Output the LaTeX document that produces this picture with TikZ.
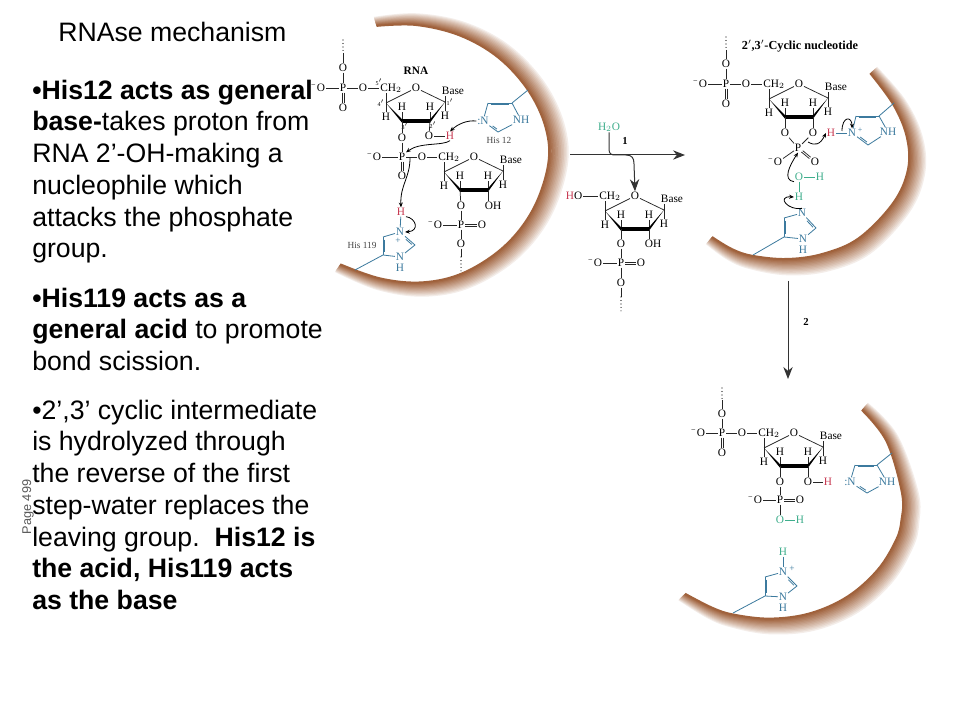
\documentclass[tikz,border=0pt]{standalone}
\usepackage{fontspec}
\setmainfont{Liberation Sans}
\newfontfamily\chemfont{Liberation Serif}
\usetikzlibrary{arrows.meta,calc}
\definecolor{bandc}{HTML}{A0623C}
\definecolor{hisc}{HTML}{3C7A9E}
\definecolor{hred}{HTML}{C83A52}
\definecolor{hgreen}{HTML}{3FAE8C}
\definecolor{labc}{HTML}{444444}
\tikzset{
  atom/.style={inner sep=0.5pt,font=\chemfont\fontsize{8.5}{9}\selectfont,text=black},
  small/.style={inner sep=0pt,font=\chemfont\fontsize{4.5}{5}\selectfont,text=black},
  bond/.style={draw=black!85,line width=0.55pt},
  hbond/.style={draw=hisc,line width=0.6pt},
  gbond/.style={draw=hgreen,line width=0.6pt},
  chain/.style={draw=black,line width=0.9pt,line cap=round,dash pattern=on 0pt off 2.6pt},
  curve/.style={draw=black,line width=0.6pt,-{Stealth[length=3.6pt,width=3pt]}},
  bigarrow/.style={draw=black!80,line width=0.75pt,-{Stealth[length=9pt,width=7pt]}},
  line/.style={anchor=base west,inner sep=0pt,font=\fontsize{20}{20}\selectfont,text=black},
}
\newcommand\atm[5][]{\node[atom,#1] (#2) at (#3,#4) {#5};}
\newcommand\sml[4]{\node[small] (#1) at (#2,#3) {#4};}
\newcommand\mO[3]{\atm{#1}{#2}{#3}{O}\node[atom,anchor=east,inner sep=0pt] (#1-m) at ([yshift=1.6pt]#1.west) {\fontsize{6}{6}\selectfont −};}
\newcommand\twob[4]{%
  \draw[bond,transform canvas={xshift=#3pt,yshift=#4pt}] (#1) -- (#2);
  \draw[bond,transform canvas={xshift={-1*(#3pt)},yshift={-1*(#4pt)}}] (#1) -- (#2);}
\newcommand\ringb[4]{%
  \draw[hbond] (#1) -- (#2);
  \draw[hbond,shorten <=2pt,shorten >=2pt,transform canvas={xshift=#3pt,yshift=#4pt}] (#1) -- (#2);}
\newcommand\ribose[3]{%
  \begin{scope}[shift={(#2,#3)}]
    \atm{#1o}{0}{0}{O}
    \atm{#1ch}{-25}{0}{CH$_2$}
    \atm{#1base}{37}{3}{Base}
    \coordinate (#1c4) at (-30,15);
    \coordinate (#1c3) at (-14,33);
    \coordinate (#1c2) at (14,33);
    \coordinate (#1c1) at (29,14);
    \atm{#1h4}{-30}{29}{H}
    \atm{#1h3}{-14}{19}{H}
    \atm{#1h2}{14}{19}{H}
    \atm{#1h1}{29}{28}{H}
    \draw[bond] (#1o) -- (#1c4);
    \draw[bond] (#1o) -- (#1c1);
    \draw[bond] (#1c4) -- (#1c4 |- #1ch.south);
    \draw[bond] (#1c1) -- (#1c1 |- #1base.south);
    \draw[bond] (#1c4) -- (#1h4);
    \draw[bond] (#1c1) -- (#1h1);
    \draw[bond] (#1c3) -- (#1h3);
    \draw[bond] (#1c2) -- (#1h2);
    \fill[black] (#1c4) -- ([yshift=1.3pt]#1c3) -- ([yshift=-1.3pt]#1c3) -- cycle;
    \fill[black] (#1c1) -- ([yshift=1.3pt]#1c2) -- ([yshift=-1.3pt]#1c2) -- cycle;
    \draw[black,line width=2.6pt] (#1c3) -- (#1c2);
  \end{scope}}
% crescent: centre x, centre y, first angle, last angle, list angle/radius of the inner edge
\newcommand\band[5]{%
  \foreach \i in {12,11,...,0}{%
    \pgfmathsetmacro\pct{100*(1-\i/13)^0.85}%
    \gdef\bandpts{}%
    \foreach \ang/\rad in {#5}{%
      \pgfmathsetmacro\rr{\rad+\i*(0.7+0.85*sin((\ang-(#3))/((#4)-(#3))*180))}%
      \pgfmathsetmacro\bx{#1+\rr*cos(\ang)}%
      \pgfmathsetmacro\by{#2+\rr*sin(\ang)}%
      \xdef\bandpts{\bandpts (\bx,\by)}%
    }%
    \edef\bandcmd{\noexpand\draw[draw=bandc!\pct!white,line width=1.5pt] plot[smooth,tension=0.6] coordinates {\bandpts};}%
    \bandcmd
  }}
\begin{document}
\begin{tikzpicture}[x=0.75pt,y=-0.75pt]
\useasboundingbox (0,0) rectangle (960,720);
\fill[white] (0,0) rectangle (960,720);

% ---- enzyme bands
\band{416}{155}{-107}{124.7}{-107/135,-90/130,-70/127.3,-50/127.5,-30/129.5,-12/132.5,4/132.5,25/129,46/127,68/127,87/127.5,106/128.5,124.7/133}
\band{785}{150}{-42}{130}{-42/114.7,-22.6/117.5,-6/122.5,9/124.5,26/120.5,50/115,70/110.5,89/109,107/110.7,118/112.4,130/113.6}
\band{785}{500}{-49.5}{136.8}{-49.5/118.4,-30/117.3,-3.4/117.2,10/118.2,20/118,37/116,57/115,77.5/116,97/119.5,114/125.5,124/130,136.8/137}

% ---- structure 1: RNA
\node[atom,font=\chemfont\bfseries\fontsize{8.5}{9}\selectfont] (rnal) at (416,71) {RNA};
\coordinate (ad1) at (343,40);
\coordinate (ad2) at (343,53);
\atm{aOt}{343}{68}{O}
\atm{aP}{343}{88}{P}
\mO{aOl}{321}{88}
\atm{aOr}{363}{88}{O}
\atm{aOd}{343}{108}{O}
\draw[chain] (ad1) -- (ad2);
\draw[bond] (ad2) -- (aOt);
\draw[bond] (aOt) -- (aP);
\draw[bond] (aOl) -- (aP);
\draw[bond] (aP) -- (aOr);
\twob{aP}{aOd}{0.7}{0}
\ribose{a}{416}{88}
\draw[bond] (aOr) -- (ach);
\sml{ap5}{379}{82}{5$'$}
\sml{ap4}{381}{103}{4$'$}
\sml{ap3}{405}{126}{3$'$}
\sml{ap2}{433}{125}{2$'$}
\sml{ap1}{450}{102}{1$'$}
\atm{aO3}{402}{138}{O}
\atm{aO2}{429}{136}{O}
\atm[text=hred]{aH2}{450}{136}{H}
\atm{aP2}{402}{157}{P}
\mO{aOm}{377}{157}
\atm{aO5}{422}{157}{O}
\atm{aOe}{402}{176}{O}
\draw[bond] (ac3) -- (aO3);
\draw[bond] (ac2) -- (aO2);
\draw[bond] (aO2) -- (aH2);
\draw[bond] (aO3) -- (aP2);
\draw[bond] (aOm) -- (aP2);
\draw[bond] (aP2) -- (aO5);
\twob{aP2}{aOe}{0.7}{0}
\ribose{b}{474}{157}
\draw[bond] (aO5) -- (bch);
\atm{bO3}{461}{206}{O}
\atm{bOH}{493}{206}{OH}
\atm{bP}{461}{225}{P}
\mO{bOm}{438}{225}
\atm{bOe}{482}{225}{O}
\atm{bOb}{461}{244}{O}
\coordinate (bd1) at (461,257);
\coordinate (bd2) at (461,272);
\draw[bond] (bc3) -- (bO3);
\draw[bond] (bc2) -- (bc2 |- bOH.north);
\draw[bond] (bO3) -- (bP);
\draw[bond] (bOm) -- (bP);
\twob{bP}{bOe}{0}{0.7}
\draw[bond] (bP) -- (bOb);
\draw[bond] (bOb) -- (bd1);
\draw[chain] (bd1) -- (bd2);
% His 12
\atm[text=hisc]{cN}{483}{121}{:N}
\atm[text=hisc]{cNH}{521}{120}{NH}
\coordinate (cn1) at (488,103);
\coordinate (cn2) at (512,103);
\coordinate (cn3) at (498,132);
\coordinate (cst) at (528,90);
\draw[hbond] (cN) -- (cn1);
\ringb{cn1}{cn2}{0}{-1.3}
\draw[hbond] (cn2) -- (cNH);
\draw[hbond] (cNH) -- (cn3);
\ringb{cn3}{cN}{0.8}{1}
\draw[hbond] (cn2) -- (cst);
\atm[text=labc,font=\chemfont\fontsize{7}{8}\selectfont]{cl}{499}{140}{His 12}
% His 119
\atm[text=hred]{dH}{401}{212}{H}
\atm[text=hisc]{dN}{400}{232}{N}
\sml{dpl}{398}{241}{\textcolor{hisc}{\fontsize{7}{7}\selectfont +}}
\atm[text=hisc]{dN2}{400}{257}{N}
\atm[text=hisc]{dH2}{400}{268}{H}
\coordinate (dn1) at (383,237);
\coordinate (dn2) at (383,255);
\coordinate (dn3) at (415,245);
\coordinate (dst) at (355,270);
\draw[hbond] (dH) -- (dN);
\draw[hbond] (dN) -- (dn1);
\ringb{dn1}{dn2}{1.3}{0}
\draw[hbond] (dn2) -- (dN2);
\draw[hbond] (dN2) -- (dn3);
\ringb{dn3}{dN}{-0.9}{-0.9}
\draw[hbond] (dn2) -- (dst);
\atm[text=labc,font=\chemfont\fontsize{7}{8}\selectfont]{dl}{362}{245}{His 119}
% electron arrows
\draw[curve] (cN.west) .. controls (467,120) and (458,124) .. (aH2.north);
\draw[curve] (aH2.south) .. controls (443,146) and (420,142) .. (aP2.north east);
\draw[curve] (410,158) .. controls (410,178) and (400,185) .. (dH.north);
\draw[curve] (dH.south east) .. controls (416,218) and (420,231) .. (dN.east);

% ---- arrow 1 and fragment
\coordinate (r1s) at (570,155);
\coordinate (r1e) at (685,155);
\draw[bigarrow] (r1s) -- (r1e);
\node[atom,text=hgreen] (wH) at (609,127) {H$_2$O};
\node[atom,font=\chemfont\bfseries\fontsize{8}{9}\selectfont] (one) at (625,141) {1};
\ribose{f}{635}{196}
\atm{fHt}{574}{196}{\textcolor{hred}{H}O}
\draw[bond] (fHt) -- (fch);
\draw[bigarrow] (wH.south) -- (609,149) .. controls (609,154) and (611,155) .. (616,155) -- (626,155) .. controls (632,155) and (634,158) .. (634,164) -- (fo.north);
\atm{fO3}{621}{244}{O}
\atm{fOH}{653}{244}{OH}
\atm{fP}{621}{263}{P}
\mO{fOm}{598}{263}
\atm{fOe}{641}{263}{O}
\atm{fOb}{621}{283}{O}
\coordinate (fd1) at (621,297);
\coordinate (fd2) at (621,311);
\draw[bond] (fc3) -- (fO3);
\draw[bond] (fc2) -- (fc2 |- fOH.north);
\draw[bond] (fO3) -- (fP);
\draw[bond] (fOm) -- (fP);
\twob{fP}{fOe}{0}{0.7}
\draw[bond] (fP) -- (fOb);
\draw[bond] (fOb) -- (fd1);
\draw[chain] (fd1) -- (fd2);

% ---- structure 2: cyclic nucleotide
\node[atom,font=\chemfont\bfseries\fontsize{9.2}{10}\selectfont] (cycl) at (800,46) {2$'$,3$'$-Cyclic nucleotide};
\coordinate (gd1) at (726,37);
\coordinate (gd2) at (726,50);
\atm{gOt}{726}{64}{O}
\atm{gP}{726}{84}{P}
\mO{gOl}{703}{84}
\atm{gOr}{746}{84}{O}
\atm{gOd}{726}{104}{O}
\draw[chain] (gd1) -- (gd2);
\draw[bond] (gd2) -- (gOt);
\draw[bond] (gOt) -- (gP);
\draw[bond] (gOl) -- (gP);
\draw[bond] (gP) -- (gOr);
\twob{gP}{gOd}{0.7}{0}
\ribose{g}{799}{84}
\draw[bond] (gOr) -- (gch);
\atm{gO3}{785}{133}{O}
\atm{gO2}{813}{133}{O}
\atm{gP2}{798}{148}{P}
\mO{gOm}{778}{162}
\atm{gOe}{815}{162}{O}
\draw[bond] (gc3) -- (gO3);
\draw[bond] (gc2) -- (gO2);
\draw[bond] (gO3) -- (gP2);
\draw[bond] (gO2) -- (gP2);
\draw[bond] (gP2) -- (gOm);
\twob{gP2}{gOe}{0.5}{0.5}
% His 12 protonated
\atm[text=hred]{hH}{831}{133}{H}
\atm[text=hisc]{hN}{852}{133}{N}
\sml{hpl}{860}{130}{\textcolor{hisc}{\fontsize{6}{6}\selectfont +}}
\atm[text=hisc]{hNH}{888}{132}{NH}
\coordinate (hn1) at (856,116);
\coordinate (hn2) at (879,116);
\coordinate (hn3) at (868,145);
\coordinate (hst) at (894,103);
\draw[hbond] (hH) -- (hN);
\draw[hbond] (hN) -- (hn1);
\ringb{hn1}{hn2}{0}{-1.3}
\draw[hbond] (hn2) -- (hNH);
\draw[hbond] (hNH) -- (hn3);
\ringb{hn3}{hN}{0.8}{1}
\draw[hbond] (hn2) -- (hst);
% water and His 119
\atm[text=hgreen]{wO}{799}{177}{O}
\atm[text=hgreen]{wH1}{820}{177}{H}
\atm[text=hgreen]{wH2}{799}{197}{H}
\draw[gbond] (wO) -- (wH1);
\draw[gbond] (wO) -- (wH2);
\atm[text=hisc]{iN}{802}{213}{N}
\atm[text=hisc]{iN2}{803}{239}{N}
\atm[text=hisc]{iH}{803}{250}{H}
\coordinate (in1) at (784,218);
\coordinate (in2) at (784,237);
\coordinate (in3) at (816,228);
\coordinate (ist) at (753,255);
\draw[hbond] (iN) -- (in1);
\ringb{in1}{in2}{1.3}{0}
\draw[hbond] (in2) -- (iN2);
\draw[hbond] (iN2) -- (in3);
\ringb{in3}{iN}{-0.9}{-0.9}
\draw[hbond] (in2) -- (ist);
% electron arrows
\draw[curve] (808,142) .. controls (815,146) and (820,145) .. (hH.west);
\draw[curve] (842,131) .. controls (842,116) and (852,116) .. (hN.north);
\draw[curve] (wO.south west) .. controls (782,180) and (790,165) .. (gP2.south);
\draw[curve] (iN.north) .. controls (788,211) and (776,196) .. (wH2.west);

% ---- arrow 2
\coordinate (r2s) at (788,281);
\coordinate (r2e) at (788,379);
\draw[bigarrow] (r2s) -- (r2e);
\node[atom,font=\chemfont\bfseries\fontsize{8}{9}\selectfont] (two) at (806,322) {2};

% ---- structure 3
\coordinate (kd1) at (722,388);
\coordinate (kd2) at (722,400);
\atm{kOt}{722}{414}{O}
\atm{kP}{722}{433}{P}
\mO{kOl}{701}{433}
\atm{kOr}{742}{433}{O}
\atm{kOd}{722}{453}{O}
\draw[chain] (kd1) -- (kd2);
\draw[bond] (kd2) -- (kOt);
\draw[bond] (kOt) -- (kP);
\draw[bond] (kOl) -- (kP);
\draw[bond] (kP) -- (kOr);
\twob{kP}{kOd}{0.7}{0}
\ribose{k}{794}{433}
\draw[bond] (kOr) -- (kch);
\atm{kO3}{780}{482}{O}
\atm{kO2}{808}{482}{O}
\atm[text=hred]{kH}{828}{482}{H}
\atm{kP2}{780}{500}{P}
\mO{kOm}{758}{500}
\atm{kOe}{800}{500}{O}
\atm[text=hgreen]{kOg}{780}{520}{O}
\atm[text=hgreen]{kHg}{800}{520}{H}
\draw[bond] (kc3) -- (kO3);
\draw[bond] (kc2) -- (kO2);
\draw[bond] (kO2) -- (kH);
\draw[bond] (kO3) -- (kP2);
\draw[bond] (kOm) -- (kP2);
\twob{kP2}{kOe}{0}{0.7}
\draw[bond] (kP2) -- (kOg);
\draw[gbond] (kOg) -- (kHg);
% His 12
\atm[text=hisc]{lN}{850}{482}{:N}
\atm[text=hisc]{lNH}{887}{482}{NH}
\coordinate (ln1) at (855,465);
\coordinate (ln2) at (877,465);
\coordinate (ln3) at (867,493);
\coordinate (lst) at (892,453);
\draw[hbond] (lN) -- (ln1);
\ringb{ln1}{ln2}{0}{-1.3}
\draw[hbond] (ln2) -- (lNH);
\draw[hbond] (lNH) -- (ln3);
\ringb{ln3}{lN}{0.8}{1}
\draw[hbond] (ln2) -- (lst);
% His 119
\atm[text=hgreen]{mH}{783}{552}{H}
\atm[text=hisc]{mN}{783}{572}{N}
\sml{mpl}{792}{569}{\textcolor{hisc}{\fontsize{7}{7}\selectfont +}}
\atm[text=hisc]{mN2}{783}{597}{N}
\atm[text=hisc]{mH2}{783}{608}{H}
\coordinate (mn1) at (765,577);
\coordinate (mn2) at (765,596);
\coordinate (mn3) at (797,586);
\coordinate (mst) at (733,613);
\draw[hbond] (mH) -- (mN);
\draw[hbond] (mN) -- (mn1);
\ringb{mn1}{mn2}{1.3}{0}
\draw[hbond] (mn2) -- (mN2);
\draw[hbond] (mN2) -- (mn3);
\ringb{mn3}{mN}{-0.9}{-0.9}
\draw[hbond] (mn2) -- (mst);

% ---- text
\node[line] (title) at (58,42) {RNAse mechanism};
\node[line] (t1) at (32,100) {\textbf{•His12 acts as general}};
\node[line] (t2) at (32,131) {\textbf{base-}takes proton from};
\node[line] (t3) at (32,163) {RNA 2’-OH-making a};
\node[line] (t4) at (32,195) {nucleophile which};
\node[line] (t5) at (32,227) {attacks the phosphate};
\node[line] (t6) at (32,258) {group.};
\node[line] (t7) at (32,307) {\textbf{•His119 acts as a}};
\node[line] (t8) at (32,339) {\textbf{general acid} to promote};
\node[line] (t9) at (32,370) {bond scission.};
\node[line] (t10) at (32,419) {•2’,3’ cyclic intermediate};
\node[line] (t11) at (32,450) {is hydrolyzed through};
\node[line] (t12) at (32,482) {the reverse of the first};
\node[line] (t13) at (32,514) {step-water replaces the};
\node[line] (t14) at (32,546) {leaving group.\ \ \textbf{His12 is}};
\node[line] (t15) at (32,577) {\textbf{the acid, His119 acts}};
\node[line] (t16) at (32,609) {\textbf{as the base}};
\node[inner sep=0pt,rotate=90,text=black!65,font=\fontsize{9.5}{9.5}\selectfont] (pg) at (28,507) {Page 499};
\end{tikzpicture}
\end{document}
